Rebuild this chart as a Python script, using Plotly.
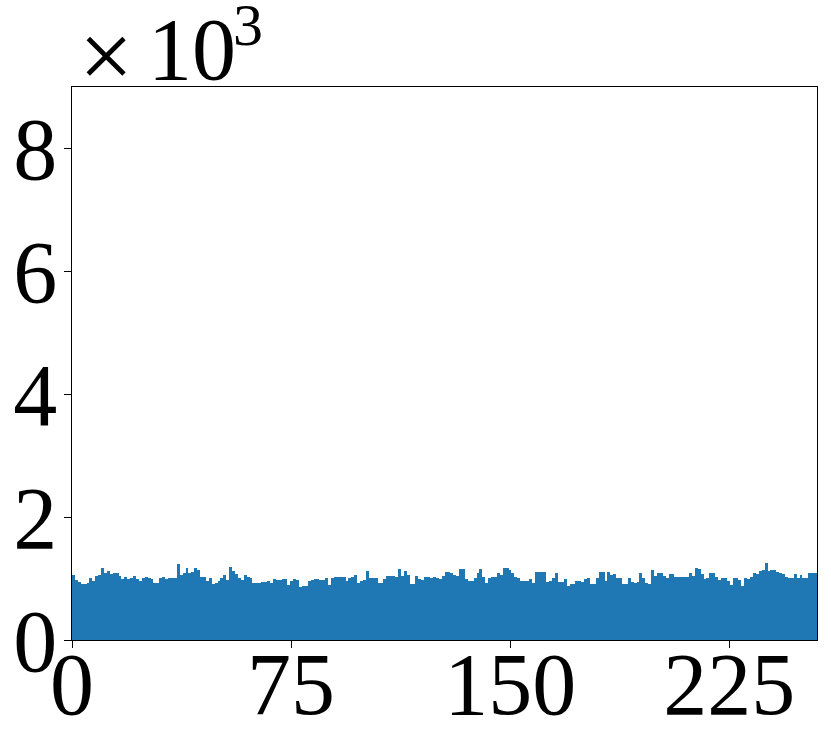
import plotly.graph_objects as go

counts = [
    1057, 976, 949, 905, 905, 921, 1003, 965, 1041, 1057, 1165, 1084, 1122, 1068, 1084, 1084,
    1046, 992, 1030, 992, 1014, 1046, 992, 959, 1003, 1019, 1003, 992, 921, 921, 1014, 1019,
    992, 1003, 1003, 1014, 1230, 1057, 1084, 1165, 1084, 1111, 1165, 1138, 1030, 1030, 959, 1014,
    911, 932, 959, 1014, 1057, 976, 1182, 1122, 1068, 1014, 976, 1057, 1030, 1003, 932, 932,
    932, 949, 949, 959, 921, 986, 976, 976, 986, 986, 894, 959, 986, 976, 856, 883,
    883, 959, 976, 992, 986, 976, 976, 1014, 894, 1014, 1030, 1030, 1030, 1030, 959, 1003,
    1030, 1057, 921, 959, 976, 1122, 1014, 1014, 1014, 921, 921, 992, 1046, 1046, 1046, 1030,
    1149, 1046, 1122, 1057, 905, 905, 1046, 992, 976, 1030, 1030, 1014, 1030, 1003, 992, 1046,
    1100, 1100, 1084, 1057, 1041, 1154, 1154, 992, 959, 959, 1003, 1084, 1149, 1030, 921, 1014,
    1019, 1019, 1084, 1057, 1176, 1176, 1138, 1084, 1030, 1003, 959, 959, 959, 992, 921, 1100,
    1100, 1100, 1100, 938, 959, 1003, 1084, 949, 938, 992, 883, 905, 911, 965, 959, 949,
    992, 1003, 905, 905, 1003, 1111, 1100, 959, 1111, 1057, 1068, 1003, 1014, 905, 905, 1014,
    938, 921, 949, 1084, 1003, 921, 911, 1138, 1041, 1084, 1084, 1046, 1003, 1068, 1068, 1030,
    1019, 1030, 1030, 1030, 1084, 1046, 1165, 1149, 1068, 992, 1003, 1084, 1084, 1030, 976, 1003,
    1014, 959, 894, 1003, 1003, 976, 883, 1003, 992, 1030, 1084, 1068, 1122, 1138, 1247, 1127,
    1138, 1138, 1111, 1084, 1068, 1030, 1014, 1014, 1068, 1014, 1057, 1003, 1014, 1084, 1084, 1084,
]
n_bins = len(counts)
x_max = 255
bin_width = x_max / n_bins
bin_centers = [(i + 0.5) * bin_width for i in range(n_bins)]

x_tick_vals = [0, 75, 150, 225]
y_tick_vals = [0, 2000, 4000, 6000, 8000]
y_tick_text = ["0", "2", "4", "6", "8"]

FONT = "Liberation Serif"
FS = 88

fig = go.Figure(go.Bar(
    x=bin_centers, y=counts, width=bin_width,
    marker=dict(color="#1f77b4", line=dict(width=0)),
))

fig.update_layout(
    width=831, height=753,
    margin=dict(l=72, r=14, t=87, b=113),
    paper_bgcolor="white", plot_bgcolor="white",
    bargap=0, showlegend=False,
    font=dict(family=FONT, size=FS, color="black"),
)
fig.update_xaxes(
    range=[0, x_max], tickvals=x_tick_vals, ticktext=[str(v) for v in x_tick_vals],
    showgrid=False, zeroline=False, showline=True, linecolor="black", linewidth=1.3,
    mirror=True, ticks="outside", ticklen=7, tickwidth=1.3, tickcolor="black",
    tickfont=dict(family=FONT, size=FS, color="black"),
    automargin=False, ticklabelstandoff=-40,
)
fig.update_yaxes(
    range=[0, 9000], tickvals=y_tick_vals, ticktext=y_tick_text,
    showgrid=False, zeroline=False, showline=True, linecolor="black", linewidth=1.3,
    mirror=True, ticks="outside", ticklen=7, tickwidth=1.3, tickcolor="black",
    tickfont=dict(family=FONT, size=FS, color="black"),
    automargin=False, ticklabelstandoff=-11,
)
# offset text "×10^3" drawn as three pieces
fig.add_annotation(
    text="×", xref="paper", yref="paper", x=0, y=1,
    xanchor="left", yanchor="bottom", xshift=5, yshift=-24, showarrow=False,
    font=dict(family=FONT, size=96, color="black"),
)
fig.add_annotation(
    text="10", xref="paper", yref="paper", x=0, y=1,
    xanchor="left", yanchor="bottom", xshift=74, yshift=-13, showarrow=False,
    font=dict(family=FONT, size=FS, color="black"),
)
fig.add_annotation(
    text="3", xref="paper", yref="paper", x=0, y=1,
    xanchor="left", yanchor="bottom", xshift=159, yshift=27, showarrow=False,
    font=dict(family=FONT, size=60, color="black"),
)

fig.write_html("out.html", post_script="document.body.style.margin='0';",
               config={"displayModeBar": False})
